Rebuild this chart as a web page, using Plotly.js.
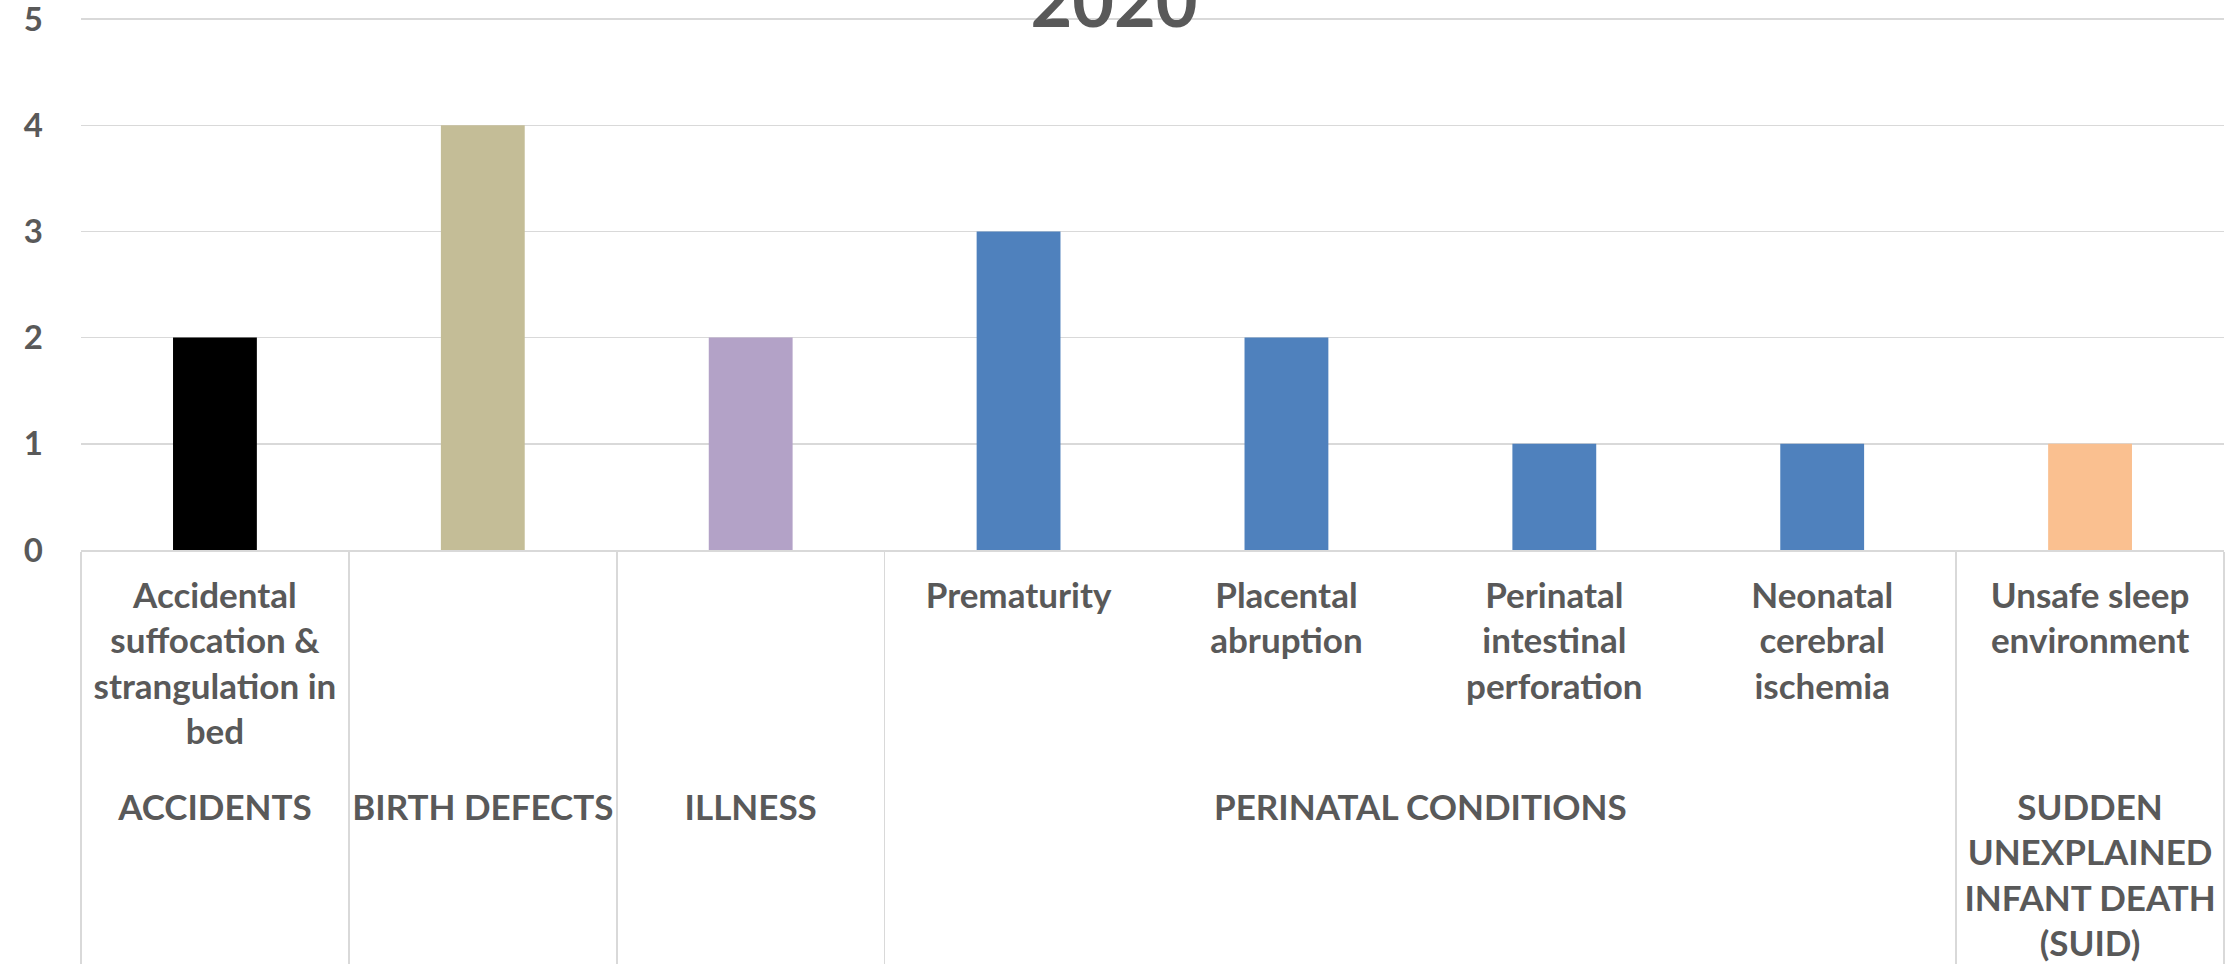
<!DOCTYPE html>
<html>
<head>
<meta charset="utf-8">
<script src="https://cdn.plot.ly/plotly-3.0.1.min.js"></script>
<style>
  html, body { margin: 0; padding: 0; background: #ffffff; }
  #chart { width: 2228px; height: 972px; }
</style>
</head>
<body>
<div id="chart"></div>
<script>
// ---- data ----
const chartTitle = '2020';
const groupLabels = [
  'ACCIDENTS',
  'BIRTH DEFECTS',
  'ILLNESS',
  'PERINATAL CONDITIONS',
  'PERINATAL CONDITIONS',
  'PERINATAL CONDITIONS',
  'PERINATAL CONDITIONS',
  'SUDDEN<br>UNEXPLAINED<br>INFANT DEATH<br>(SUID)'
];
const causeLabels = [
  'Accidental<br>suffocation &<br>strangulation in<br>bed<br> ',
  ' ',
  ' ',
  'Prematurity',
  'Placental<br>abruption',
  'Perinatal<br>intestinal<br>perforation',
  'Neonatal<br>cerebral<br>ischemia',
  'Unsafe sleep<br>environment'
];
const deaths = [2, 4, 2, 3, 2, 1, 1, 1];
const barColors = ['#000000', '#c4bd97', '#b3a2c7', '#4f81bd', '#4f81bd', '#4f81bd', '#4f81bd', '#fac090'];
const yTicks = [0, 1, 2, 3, 4, 5];

// ---- chart ----
const FONT = 'Lato, "Open Sans", "Noto Sans", sans-serif';
const TXT = '#595959';

const trace = {
  type: 'bar',
  x: [groupLabels, causeLabels],
  y: deaths,
  marker: { color: barColors, line: { width: 0 } },
  hoverinfo: 'skip'
};

const layout = {
  width: 2228,
  height: 972,
  paper_bgcolor: '#ffffff',
  plot_bgcolor: '#ffffff',
  margin: { l: 81, r: 4, t: 18, b: 422, pad: 0 },
  showlegend: false,
  bargap: 0.687,
  title: {
    text: '<b>' + chartTitle + '</b>',
    font: { family: FONT, size: 72, color: TXT },
    x: 0.5, xanchor: 'center',
    xref: 'container',
    y: 0.9985, yanchor: 'middle', yref: 'container'
  },
  xaxis: {
    type: 'multicategory',
    showline: true,
    linecolor: '#d9d9d9',
    linewidth: 1.5,
    showgrid: false,
    ticks: '',
    showdividers: true,
    dividercolor: '#d9d9d9',
    dividerwidth: 1.5,
    ticklabelstandoff: 14,
    tickfont: { family: FONT, size: 35, color: TXT, weight: 'bold' },
    automargin: false
  },
  yaxis: {
    autorange: false,
    range: [0, 5.01],
    tickmode: 'array',
    tickvals: yTicks,
    ticktext: yTicks.map(String),
    ticklabeloverflow: 'allow',
    showgrid: true,
    gridcolor: '#d9d9d9',
    gridwidth: 1.5,
    zeroline: false,
    showline: false,
    ticks: '',
    ticklabelstandoff: 37,
    tickfont: { family: FONT, size: 33, color: TXT, weight: 'bold' },
    automargin: false
  }
};

Plotly.newPlot('chart', [trace], layout, { staticPlot: true, displayModeBar: false });
</script>
</body>
</html>
